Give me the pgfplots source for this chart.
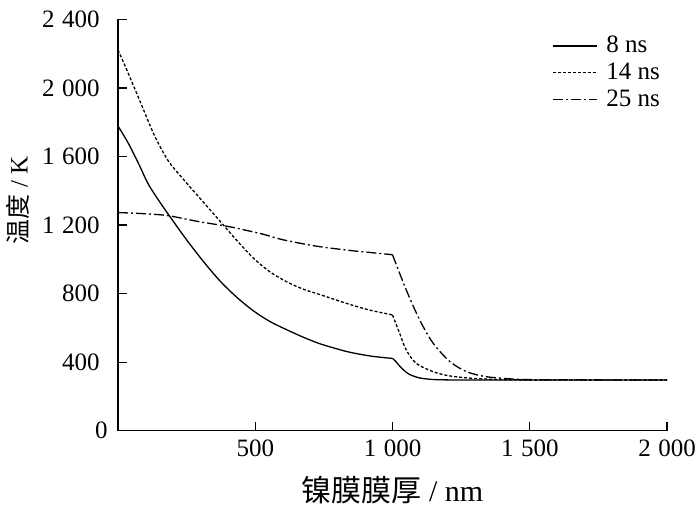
\documentclass[12pt,border=0pt]{standalone}
\usepackage{fontspec}
\setmainfont{Liberation Serif}
\newfontfamily\cjk{Noto Sans CJK SC}
\usepackage{pgfplots}
\pgfplotsset{compat=1.18}
\begin{document}
\begin{tikzpicture}
\useasboundingbox (-59pt,-38.6pt) rectangle (291pt,215.4pt);
\begin{axis}[
  scale only axis, width=274.5pt, height=205.7pt,
  xmin=0, xmax=2000, ymin=0, ymax=2400,
  axis x line=bottom, axis y line=left,
  axis line style={-, line width=0.6pt},
  every tick/.style={black, line width=0.6pt},
  tick align=inside, major tick length=4.5pt,
  xtick={500,1000,1500,2000},
  ytick={400,800,1200,1600,2000,2400},
  extra y ticks={0},
  extra y tick style={yticklabel style={xshift=4pt}},
  /pgf/number format/assume math mode=true,
  /pgf/number format/1000 sep={\hspace{0.3em}},
  tick label style={font=\fontsize{12.5}{14}\selectfont},
  yticklabel shift=5pt,
  xticklabel shift=0.5pt,
  xlabel={{\cjk 镍膜膜厚} / nm},
  ylabel={{\cjk 温度} / K},
  every axis x label/.style={at={(axis description cs:0.5,-0.144)}, anchor=center, font=\fontsize{15}{17}\selectfont},
  every axis y label/.style={at={(axis description cs:-0.1821,0.56)}, anchor=center, rotate=90, font=\fontsize{12.5}{14}\selectfont},
  legend style={at={(axis description cs:0.79,0.968)}, anchor=north west, draw=none, fill=none,
    font=\fontsize{12.5}{14}\selectfont, inner sep=0pt, row sep=0.3pt,
    nodes={inner sep=1.5pt},
    /tikz/every odd column/.append style={column sep=3pt}},
  legend cell align=left,
  legend image code/.code={\draw[#1] (0pt,0pt) -- (22pt,0pt);},
  s8/.style={black, line width=0.65pt},
  s14/.style={black, line width=0.65pt, dash pattern=on 1.5pt off 1pt},
  s25/.style={black, line width=0.65pt, dash pattern=on 5pt off 1.5pt on 1pt off 1.5pt},
]
% 8 ns
\addplot[s8, smooth, tension=0.5] coordinates {
(0,1778) (37,1679) (74,1562) (110,1440) (150,1340) (189,1250) (250,1114) (311,988)
(371,875) (432,780) (493,700) (553,638) (614,590) (675,546) (735,508) (800,477)
(845,458) (920,436) (1000,422)};
\addlegendentry{8 ns}
\addplot[s14, smooth, tension=0.5] coordinates {
(0,2222) (37,2087) (86,1900) (135,1715) (183,1575) (226,1490) (268,1412) (311,1334)
(383,1202) (432,1112) (493,1008) (553,928) (614,870) (675,826) (735,795) (845,737)
(920,703) (1000,676)};
\addlegendentry{14 ns}
\addplot[s25, smooth, tension=0.5] coordinates {
(0,1273) (50,1270) (110,1265) (183,1255) (292,1221) (401,1192) (480,1165) (535,1144)
(602,1114) (723,1077) (845,1052) (920,1040) (1000,1027)};
\addlegendentry{25 ns}
% drops beyond 1000 nm
\addplot[s8, smooth, tension=0.5, forget plot] coordinates {
(1000,422) (1010,408) (1026,378) (1045,348) (1063,328) (1090,312) (1111,305)
(1150,299) (1200,297) (1300,296) (2000,296)};
\addplot[s14, smooth, tension=0.5, forget plot] coordinates {
(1000,676) (1026,569) (1050,472) (1086,394) (1148,345) (1209,320)
(1293,306) (1390,299) (1500,297) (2000,296)};
\addplot[s25, smooth, tension=0.5, forget plot] coordinates {
(1000,1027) (1050,822) (1099,647) (1148,511) (1209,404) (1270,345) (1340,316)
(1450,301) (1550,298) (2000,296)};
\end{axis}
\end{tikzpicture}
\end{document}
